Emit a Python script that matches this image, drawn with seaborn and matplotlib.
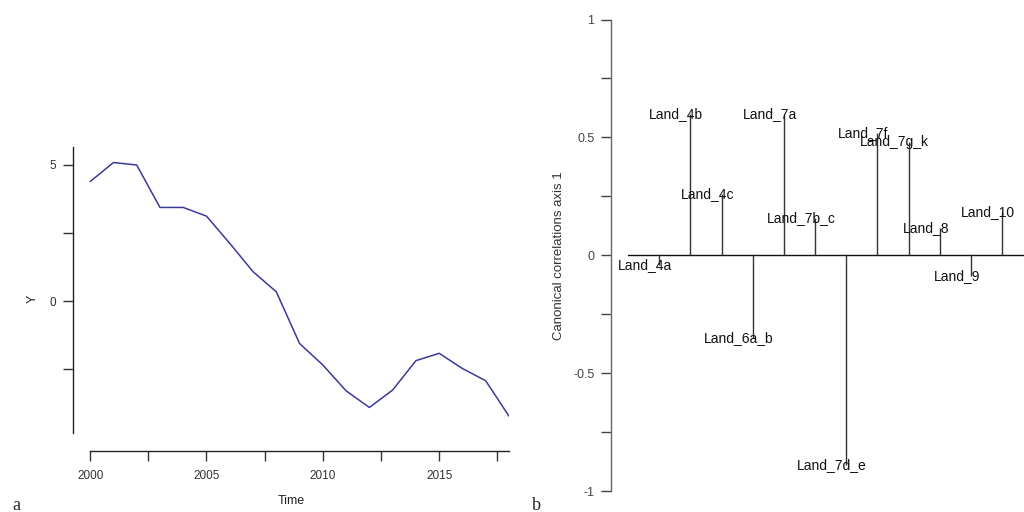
import numpy as np
import pandas as pd
import matplotlib
matplotlib.use('Agg')
import matplotlib.pyplot as plt
import seaborn as sns

# panel a: time series
years = [2000, 2001, 2002, 2003, 2004, 2005, 2006, 2007, 2008, 2009,
         2010, 2011, 2012, 2013, 2014, 2015, 2016, 2017, 2018]
y_vals = [4.39, 5.09, 5.00, 3.44, 3.44, 3.12, 2.12, 1.08, 0.34, -1.56,
          -2.35, -3.30, -3.91, -3.27, -2.19, -1.92, -2.48, -2.93, -4.23]

# panel b: canonical correlations axis 1
land_names = ['Land_4a', 'Land_4b', 'Land_4c', 'Land_6a_b', 'Land_7a', 'Land_7b_c',
              'Land_7d_e', 'Land_7f', 'Land_7g_k', 'Land_8', 'Land_9', 'Land_10']
cancor = [-0.04, 0.60, 0.26, -0.35, 0.60, 0.16,
          -0.89, 0.52, 0.48, 0.115, -0.09, 0.185]

sns.set_theme(style='ticks')
plt.rcParams['font.family'] = ['Liberation Sans', 'DejaVu Sans']

W, H = 1024, 512
fig = plt.figure(figsize=(10.24, 5.12), dpi=100)

def box(x0, y0, x1, y1):
    # pixel box (top-left origin) -> figure fraction
    return [x0 / W, 1 - y1 / H, (x1 - x0) / W, (y1 - y0) / H]

# ---- panel a ----
ax1 = fig.add_axes(box(72.7, 147.3, 509, 451))
df = pd.DataFrame({'Time': years, 'Y': y_vals})
sns.lineplot(data=df, x='Time', y='Y', ax=ax1, color='#3a3a9c', linewidth=1.1)
ax1.set_xlim(1999.25, 2018)
ax1.set_ylim(-5.51, 5.65)
ax1.spines['top'].set_visible(False)
ax1.spines['right'].set_visible(False)
ax1.spines['left'].set_bounds(-4.86, 5.65)
ax1.spines['bottom'].set_bounds(2000, 2018)
for s in ['left', 'bottom']:
    ax1.spines[s].set_color('#222222')
    ax1.spines[s].set_linewidth(1)
ax1.set_yticks([-2.5, 0, 2.5, 5])
ax1.set_yticklabels(['', '0', '', '5'])
ax1.set_xticks([2000, 2002.5, 2005, 2007.5, 2010, 2012.5, 2015, 2017.5])
ax1.set_xticklabels(['2000', '', '2005', '', '2010', '', '2015', ''])
ax1.tick_params(axis='y', length=7, width=1, colors='#333333', labelsize=8.5, pad=5)
ax1.tick_params(axis='x', length=7, width=1, colors='#333333', labelsize=8.5, pad=7)
ax1.set_xlabel('Time', fontsize=9, color='#222222', labelpad=9)
ax1.set_ylabel('Y', fontsize=9, color='#222222', labelpad=8)

# ---- panel b ----
ax2 = fig.add_axes(box(611, 19.5, 1024, 491))
pos = np.arange(1, len(land_names) + 1)
ax2.set_xlim(-0.545, 12.70)
ax2.set_ylim(-1, 1)
ax2.plot([0, 12.70], [0, 0], color='#111111', linewidth=1)
ax2.vlines(pos, 0, cancor, color='#333333', linewidth=1)
for p, v, name in zip(pos, cancor, land_names):
    ax2.text(p - 0.45, v, name, ha='center', va='center', fontsize=10, color='#111111')
ax2.spines['top'].set_visible(False)
ax2.spines['right'].set_visible(False)
ax2.spines['bottom'].set_visible(False)
ax2.spines['left'].set_color('#666666')
ax2.spines['left'].set_linewidth(1)
ax2.set_xticks([])
ax2.set_yticks([-1, -0.75, -0.5, -0.25, 0, 0.25, 0.5, 0.75, 1])
ax2.set_yticklabels(['-1', '', '-0.5', '', '0', '', '0.5', '', '1'])
ax2.tick_params(axis='y', length=7, width=1, colors='#444444', labelsize=9, pad=5)
ax2.set_ylabel('Canonical correlations axis 1', fontsize=9.5, color='#333333', labelpad=6)

# panel letters
fig.text(12 / W, 1 - 505 / H, 'a', fontsize=13, family='Liberation Serif', va='center')
fig.text(532 / W, 1 - 505 / H, 'b', fontsize=13, family='Liberation Serif', va='center')

fig.savefig('out.png', dpi=100)
